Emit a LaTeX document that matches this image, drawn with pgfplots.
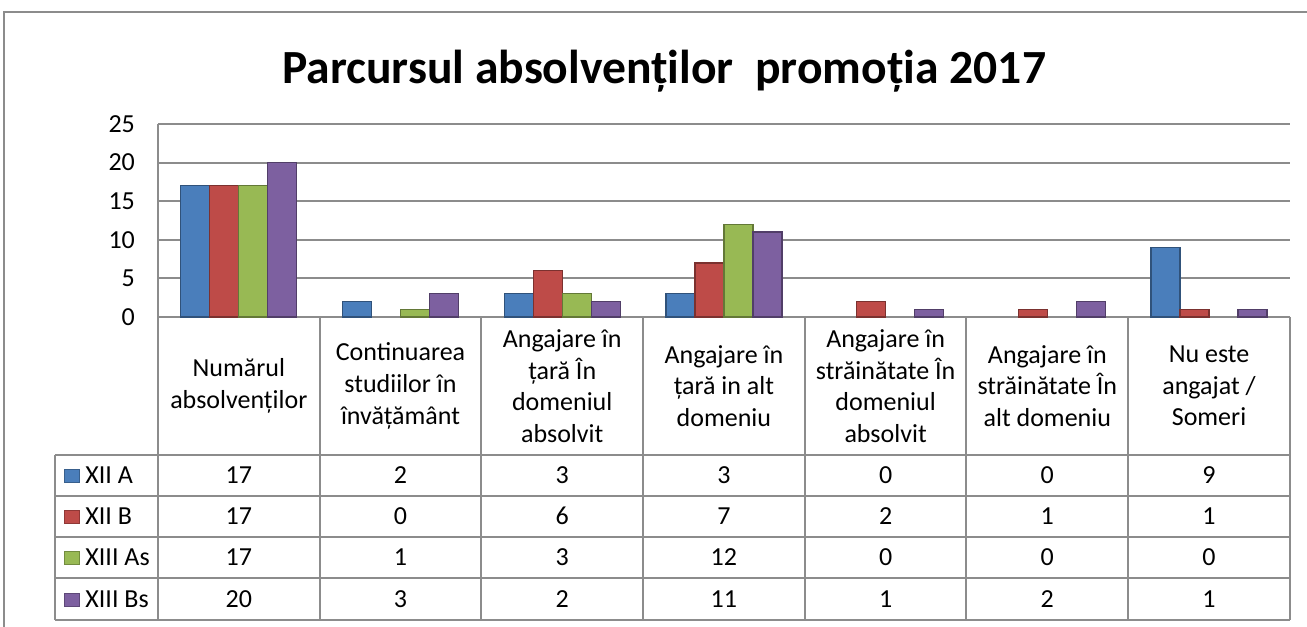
\documentclass[border=0pt]{standalone}
\usepackage{fontspec}
\setmainfont{Carlito}
\usepackage{pgfplots}
\usepackage{pgfplotstable}
\pgfplotsset{compat=1.18}
\definecolor{cA}{HTML}{4A7EBB}
\definecolor{cB}{HTML}{BE4B48}
\definecolor{cC}{HTML}{98B954}
\definecolor{cD}{HTML}{7D60A0}
\definecolor{gridc}{HTML}{8C8C8C}
\pgfplotstableread{
x A B C D
0 17 17 17 20
1 2 0 1 3
2 3 6 3 2
3 3 7 12 11
4 0 2 0 1
5 0 1 0 2
6 9 1 0 1
}\data
\newcommand{\bodyfont}{\fontsize{13}{15.8}\selectfont}
\newcommand{\icon}[1]{\textcolor{#1!75!black}{\rule{8pt}{7pt}}\kern-7.5pt\textcolor{#1}{\rule[0.5pt]{7pt}{6pt}}\hspace{3pt}}
\begin{document}
\begin{tikzpicture}
\begin{axis}[
  at={(0,0)}, anchor=origin,
  scale only axis, width=566pt, height=96.5pt,
  xmin=-0.5, xmax=6.5, ymin=0, ymax=25,
  ytick={0,5,...,25}, xtick=\empty,
  ymajorgrids, grid style={gridc, line width=1pt},
  axis lines*=left, axis line style={gridc, line width=1pt, -},
  major tick length=0pt,
  /pgf/number format/assume math mode=true,
  yticklabel style={font=\bodyfont, anchor=east, xshift=-8pt},
  clip=false,
  ybar=0pt, bar width=14.5pt,
  y filter/.expression={y==0 ? nan : y},
  unbounded coords=jump,
]
\addplot[fill=cA, draw=cA!65!black, line width=0.6pt] table[x=x,y=A]{\data};
\addplot[fill=cB, draw=cB!65!black, line width=0.6pt] table[x=x,y=B]{\data};
\addplot[fill=cC, draw=cC!65!black, line width=0.6pt] table[x=x,y=C]{\data};
\addplot[fill=cD, draw=cD!65!black, line width=0.6pt] table[x=x,y=D]{\data};

% title
\node[font=\fontsize{23.8}{28}\bfseries\selectfont] at (axis cs:2.63,31.8) {Parcursul absolvenților\ \ promoția 2017};

% table grid
\begin{scope}[gridc, line width=1pt]
\draw (axis cs:-0.5,0) -- (axis cs:-0.5,-39.25);
\draw (axis cs:0.5,0) -- (axis cs:0.5,-39.25);
\draw (axis cs:1.5,0) -- (axis cs:1.5,-39.25);
\draw (axis cs:2.5,0) -- (axis cs:2.5,-39.25);
\draw (axis cs:3.5,0) -- (axis cs:3.5,-39.25);
\draw (axis cs:4.5,0) -- (axis cs:4.5,-39.25);
\draw (axis cs:5.5,0) -- (axis cs:5.5,-39.25);
\draw (axis cs:6.5,0) -- (axis cs:6.5,-39.25);
\draw (axis cs:-1.137,-17.88) -- (axis cs:-1.137,-39.25);
\draw (axis cs:-1.137,-17.88) -- (axis cs:6.5,-17.88);
\draw (axis cs:-1.137,-23.19) -- (axis cs:6.5,-23.19);
\draw (axis cs:-1.137,-28.50) -- (axis cs:6.5,-28.50);
\draw (axis cs:-1.137,-33.81) -- (axis cs:6.5,-33.81);
\draw (axis cs:-1.137,-39.25) -- (axis cs:6.5,-39.25);
\end{scope}

% header
\begin{scope}[every node/.style={font=\bodyfont, align=center, inner sep=0pt}]
\node at (axis cs:0,-8.94) {Numărul\\absolvenților};
\node at (axis cs:1,-8.94) {Continuarea\\studiilor în\\învățământ};
\node at (axis cs:2,-8.94) {Angajare în\\țară În\\domeniul\\absolvit};
\node at (axis cs:3,-8.94) {Angajare în\\țară in alt\\domeniu};
\node at (axis cs:4,-8.94) {Angajare în\\străinătate În\\domeniul\\absolvit};
\node at (axis cs:5,-8.94) {Angajare în\\străinătate În\\alt domeniu};
\node at (axis cs:6,-8.94) {Nu este\\angajat /\\Someri};
% row labels
\node[anchor=west] at (axis cs:-1.081,-20.47) {\icon{cA}XII A};
\node[anchor=west] at (axis cs:-1.081,-25.78) {\icon{cB}XII B};
\node[anchor=west] at (axis cs:-1.081,-31.09) {\icon{cC}XIII As};
\node[anchor=west] at (axis cs:-1.081,-36.53) {\icon{cD}XIII Bs};
% values
\node at (axis cs:0,-20.47) {17}; \node at (axis cs:1,-20.47) {2}; \node at (axis cs:2,-20.47) {3}; \node at (axis cs:3,-20.47) {3}; \node at (axis cs:4,-20.47) {0}; \node at (axis cs:5,-20.47) {0}; \node at (axis cs:6,-20.47) {9};
\node at (axis cs:0,-25.78) {17}; \node at (axis cs:1,-25.78) {0}; \node at (axis cs:2,-25.78) {6}; \node at (axis cs:3,-25.78) {7}; \node at (axis cs:4,-25.78) {2}; \node at (axis cs:5,-25.78) {1}; \node at (axis cs:6,-25.78) {1};
\node at (axis cs:0,-31.09) {17}; \node at (axis cs:1,-31.09) {1}; \node at (axis cs:2,-31.09) {3}; \node at (axis cs:3,-31.09) {12}; \node at (axis cs:4,-31.09) {0}; \node at (axis cs:5,-31.09) {0}; \node at (axis cs:6,-31.09) {0};
\node at (axis cs:0,-36.53) {20}; \node at (axis cs:1,-36.53) {3}; \node at (axis cs:2,-36.53) {2}; \node at (axis cs:3,-36.53) {11}; \node at (axis cs:4,-36.53) {1}; \node at (axis cs:5,-36.53) {2}; \node at (axis cs:6,-36.53) {1};
\end{scope}

\coordinate (bl) at (axis cs:-1.477,-40.16);
\coordinate (tr) at (axis cs:6.606,41.06);
\coordinate (fbl) at (axis cs:-1.452,-45);
\coordinate (ftr) at (axis cs:6.70,39.5);
\end{axis}
\draw[gridc, line width=1pt] (fbl) rectangle (ftr);
\pgfresetboundingbox
\path[use as bounding box] (bl) rectangle (tr);
\end{tikzpicture}
\end{document}
